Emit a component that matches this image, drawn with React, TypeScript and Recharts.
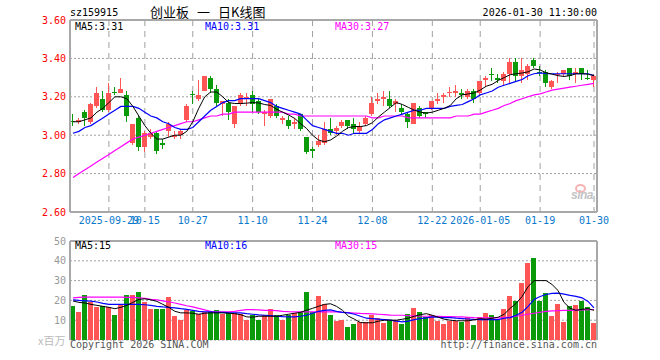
import React from "react";
import {
  ComposedChart,
  Bar,
  Line,
  XAxis,
  YAxis,
  CartesianGrid,
  ReferenceLine,
} from "recharts";

// ---------------------------------------------------------------------------
// Data (read off the sina daily K chart of sz159915)
// ---------------------------------------------------------------------------

const dates = [
  "2025-09-19", "2025-09-22", "2025-09-23", "2025-09-24", "2025-09-25", "2025-09-26", "2025-09-29", "2025-09-30",
  "2025-10-09", "2025-10-10", "2025-10-13", "2025-10-14", "2025-10-15", "2025-10-16", "2025-10-17", "2025-10-20",
  "2025-10-21", "2025-10-22", "2025-10-23", "2025-10-24", "2025-10-27", "2025-10-28", "2025-10-29", "2025-10-30",
  "2025-10-31", "2025-11-03", "2025-11-04", "2025-11-05", "2025-11-06", "2025-11-07", "2025-11-10", "2025-11-11",
  "2025-11-12", "2025-11-13", "2025-11-14", "2025-11-17", "2025-11-18", "2025-11-19", "2025-11-20", "2025-11-21",
  "2025-11-24", "2025-11-25", "2025-11-26", "2025-11-27", "2025-11-28", "2025-12-01", "2025-12-02", "2025-12-03",
  "2025-12-04", "2025-12-05", "2025-12-08", "2025-12-09", "2025-12-10", "2025-12-11", "2025-12-12", "2025-12-15",
  "2025-12-16", "2025-12-17", "2025-12-18", "2025-12-19", "2025-12-22", "2025-12-23", "2025-12-24", "2025-12-25",
  "2025-12-26", "2025-12-29", "2025-12-30", "2025-12-31", "2026-01-05", "2026-01-06", "2026-01-07", "2026-01-08",
  "2026-01-09", "2026-01-12", "2026-01-13", "2026-01-14", "2026-01-15", "2026-01-16", "2026-01-19", "2026-01-20",
  "2026-01-21", "2026-01-22", "2026-01-23", "2026-01-26", "2026-01-27", "2026-01-28", "2026-01-29", "2026-01-30",
];

const opens = [
  3.075, 3.07, 3.12, 3.07, 3.15, 3.19, 3.13, 3.225, 3.22, 3.21,
  2.96, 3.09, 2.94, 2.99, 3.01, 2.96, 3.02, 2.99, 3.0, 3.08,
  3.215, 3.19, 3.23, 3.3, 3.24, 3.16, 3.17, 3.06, 3.16, 3.19,
  3.21, 3.18, 3.11, 3.1, 3.15, 3.08, 3.08, 3.06, 3.11, 2.99,
  2.93, 2.95, 2.96, 3.03, 3.02, 3.05, 3.08, 3.06, 3.02, 3.06,
  3.11, 3.18, 3.19, 3.19, 3.16, 3.14, 3.11, 3.06, 3.14, 3.12,
  3.14, 3.18, 3.2, 3.22, 3.22, 3.22, 3.2, 3.23, 3.22, 3.29,
  3.32, 3.3, 3.28, 3.32, 3.38, 3.31, 3.32, 3.39, 3.33, 3.33,
  3.25, 3.315, 3.32, 3.35, 3.32, 3.35, 3.3, 3.29,
];

const highs = [
  3.11, 3.09, 3.13, 3.17, 3.25, 3.23, 3.27, 3.25, 3.3, 3.23,
  3.06, 3.1, 3.02, 3.03, 3.02, 2.98, 3.07, 3.02, 3.03, 3.16,
  3.23, 3.29, 3.31, 3.31, 3.26, 3.18, 3.19, 3.15, 3.22, 3.22,
  3.23, 3.19, 3.13, 3.19, 3.16, 3.1, 3.1, 3.09, 3.11, 2.99,
  2.94, 3.0, 3.07, 3.09, 3.05, 3.08, 3.08, 3.09, 3.07, 3.1,
  3.2, 3.22, 3.23, 3.23, 3.19, 3.16, 3.12, 3.17, 3.15, 3.12,
  3.18, 3.22, 3.22, 3.25, 3.26, 3.24, 3.24, 3.24, 3.28, 3.31,
  3.35, 3.32, 3.33, 3.4, 3.4, 3.4, 3.37, 3.4, 3.36, 3.34,
  3.29, 3.33, 3.34, 3.35, 3.35, 3.35, 3.34, 3.32,
];

const lows = [
  3.05, 3.06, 3.05, 3.06, 3.14, 3.12, 3.12, 3.21, 3.22, 3.07,
  2.95, 2.92, 2.91, 2.98, 2.9, 2.93, 2.99, 2.98, 2.98, 3.07,
  3.16, 3.18, 3.23, 3.22, 3.15, 3.1, 3.08, 3.04, 3.15, 3.15,
  3.12, 3.11, 3.05, 3.09, 3.09, 3.06, 3.03, 3.03, 3.02, 2.9,
  2.88, 2.94, 2.95, 3.0, 3.0, 3.04, 3.03, 3.01, 3.01, 3.05,
  3.1, 3.16, 3.15, 3.14, 3.12, 3.11, 3.04, 3.06, 3.09, 3.09,
  3.13, 3.16, 3.17, 3.2, 3.2, 3.19, 3.19, 3.17, 3.21, 3.25,
  3.28, 3.27, 3.26, 3.27, 3.28, 3.27, 3.29, 3.35, 3.31, 3.25,
  3.24, 3.27, 3.31, 3.29, 3.27, 3.29, 3.29, 3.25,
];

const closes = [
  3.07, 3.08, 3.09, 3.16, 3.22, 3.13, 3.22, 3.22, 3.24, 3.1,
  3.06, 2.94, 3.01, 3.01, 2.92, 2.95, 3.06, 3.0, 3.02, 3.15,
  3.21, 3.21, 3.31, 3.24, 3.17, 3.18, 3.12, 3.15, 3.21, 3.2,
  3.16, 3.12, 3.12, 3.19, 3.1, 3.09, 3.05, 3.07, 3.03, 2.91,
  2.92, 2.97, 3.03, 3.01, 3.04, 3.07, 3.05, 3.03, 3.05, 3.09,
  3.17, 3.19, 3.2, 3.15, 3.18, 3.12, 3.07, 3.17, 3.1, 3.11,
  3.18, 3.19, 3.21, 3.225, 3.23, 3.21, 3.23, 3.19, 3.28, 3.3,
  3.315, 3.29, 3.32, 3.38, 3.31, 3.34, 3.36, 3.36, 3.325, 3.27,
  3.28, 3.32, 3.34, 3.31, 3.33, 3.32, 3.295, 3.31,
];

const ma5 = [
  3.07, 3.07, 3.08, 3.09, 3.12, 3.14, 3.17, 3.2, 3.2, 3.19,
  3.15, 3.1, 3.05, 3.01, 2.98, 2.98, 2.99, 3.0, 3.0, 3.02,
  3.07, 3.14, 3.2, 3.225, 3.225, 3.2, 3.17, 3.165, 3.165, 3.167,
  3.17, 3.168, 3.16, 3.155, 3.135, 3.12, 3.105, 3.088, 3.06, 3.035,
  3.0, 2.975, 2.966, 2.975, 2.995, 3.02, 3.04, 3.045, 3.045, 3.05,
  3.065, 3.095, 3.12, 3.145, 3.17, 3.16, 3.145, 3.13, 3.12, 3.115,
  3.12, 3.13, 3.14, 3.155, 3.19, 3.21, 3.215, 3.22, 3.235, 3.255,
  3.265, 3.285, 3.3, 3.315, 3.32, 3.324, 3.33, 3.345, 3.34, 3.325,
  3.318, 3.31, 3.306, 3.31, 3.32, 3.32, 3.318, 3.31,
];

const ma10 = [
  3.01, 3.02, 3.04, 3.05, 3.07, 3.09, 3.11, 3.13, 3.15, 3.15,
  3.15, 3.14, 3.12, 3.1, 3.09, 3.07, 3.06, 3.04, 3.03, 3.03,
  3.04, 3.07, 3.1, 3.13, 3.15, 3.17, 3.18, 3.18, 3.19, 3.19,
  3.19, 3.19, 3.18, 3.17, 3.15, 3.14, 3.13, 3.12, 3.11, 3.08,
  3.05, 3.04, 3.03, 3.02, 3.01, 3.01, 3.0, 3.01, 3.01, 3.01,
  3.03, 3.06, 3.08, 3.09, 3.1, 3.11, 3.12, 3.13, 3.13, 3.14,
  3.14, 3.14, 3.14, 3.15, 3.155, 3.16, 3.175, 3.19, 3.21, 3.22,
  3.23, 3.25, 3.26, 3.27, 3.28, 3.29, 3.31, 3.32, 3.325, 3.32,
  3.32, 3.32, 3.32, 3.32, 3.32, 3.32, 3.32, 3.31,
];

const ma30 = [
  2.78, 2.8, 2.82, 2.84, 2.86, 2.88, 2.9, 2.92, 2.94, 2.96,
  2.98, 2.99, 3.0, 3.01, 3.02, 3.03, 3.04, 3.05, 3.06, 3.07,
  3.07, 3.08, 3.09, 3.1, 3.1, 3.11, 3.11, 3.12, 3.12, 3.12,
  3.12, 3.12, 3.12, 3.12, 3.12, 3.12, 3.11, 3.11, 3.1, 3.1,
  3.1, 3.1, 3.1, 3.1, 3.1, 3.1, 3.1, 3.1, 3.1, 3.1,
  3.09, 3.09, 3.1, 3.1, 3.1, 3.1, 3.09, 3.09, 3.09, 3.09,
  3.09, 3.09, 3.09, 3.09, 3.1, 3.1, 3.1, 3.11, 3.11, 3.12,
  3.13, 3.14, 3.155, 3.165, 3.18, 3.19, 3.2, 3.21, 3.215, 3.225,
  3.235, 3.24, 3.245, 3.25, 3.255, 3.26, 3.265, 3.27,
];

// volume, millions of shares
const volumes = [
  17, 14, 22.5, 19.2, 16.7, 17, 16.7, 12.5, 17.5, 22.5,
  22.5, 24, 19, 15.7, 15.7, 15.7, 21.7, 12, 10, 15,
  14.7, 13.3, 14.2, 14.2, 15, 13.3, 13.7, 13.7, 13.3, 10,
  12.5, 10.3, 12.5, 15.8, 12.5, 10, 12.5, 13.7, 14.2, 24,
  14.2, 22, 18.3, 12.5, 9.7, 10, 6.7, 8, 9.2, 9.2,
  12.5, 11.3, 8.7, 9.7, 10.3, 8, 13, 16.2, 14, 11.7,
  12.8, 9.7, 8, 9.7, 9.7, 9.2, 11.7, 7.5, 11.7, 13.7,
  12.5, 10.3, 15.7, 22.2, 19.7, 28.7, 38.7, 41.2, 19.7, 23.7,
  12, 18, 9.2, 17, 17.5, 19.7, 16.7, 8.7,
];

const volMa5 = [
  19.7, 19, 18.7, 18, 17.5, 17, 16.5, 15.8, 16.5, 17.5,
  19, 20.5, 20.8, 20.3, 19.5, 18, 16.5, 14.5, 13.7, 13.7,
  13.5, 13, 13.5, 13.7, 13.7, 13.7, 13.5, 13.3, 12.8, 11.7,
  11.5, 12, 12, 12, 12, 12.5, 13, 13.5, 14, 15,
  16, 17, 18, 18.3, 17, 15, 12, 10.5, 8.8, 8.7,
  8.7, 9.5, 10, 10, 10, 10.5, 11, 12, 12.8, 13.3,
  12.5, 11.5, 10.5, 10, 9.7, 9.7, 9.7, 10.2, 10.8, 10.5,
  11, 11.5, 13, 16, 18.5, 22, 27, 30, 30, 30,
  28, 25, 19, 16, 15, 15.5, 15.8, 15,
];

const volMa10 = [
  20.3, 20, 19.8, 19.6, 19.2, 18.5, 18, 18, 18, 18,
  18, 18, 17.8, 17.5, 17, 16.7, 16.5, 16.2, 15.8, 15.5,
  15, 14.5, 14.2, 14.2, 14, 14, 13.8, 13.7, 13.7, 13.3,
  13, 12.7, 12.5, 12.3, 12, 11.8, 11.7, 11.7, 12, 12.5,
  13.5, 14.5, 15, 15.2, 14.5, 14, 13.7, 13, 12, 11,
  10.8, 10.5, 10.3, 10, 9.5, 9.2, 9.5, 10.3, 10.8, 11.2,
  11.7, 11.5, 11.3, 11.3, 11, 10.8, 10.6, 10.4, 10.3, 10.3,
  10.3, 10.3, 11, 11.3, 12.5, 14, 17, 20.5, 22, 23,
  23.5, 23.7, 23.2, 22.5, 22, 21.3, 19.5, 16.2,
];

const volMa30 = [
  21.3, 21.5, 21.7, 21.7, 21.7, 21.7, 21.7, 21.7, 21.7, 21.5,
  21.5, 21.3, 21, 20.5, 20.3, 19.8, 19.3, 18.7, 18, 17.3,
  16.7, 16, 15.2, 14.5, 14.2, 14.2, 14.2, 14.5, 15, 15.3,
  15.3, 15.2, 15, 15, 14.8, 14.5, 14.3, 14.2, 14.2, 14.2,
  14.2, 14.2, 14.2, 14.2, 14.2, 14, 13.8, 13.6, 13.4, 13.3,
  13.2, 13, 12.8, 12.6, 12.5, 12.5, 12.3, 12.2, 12, 12,
  12, 11.9, 11.8, 11.8, 11.7, 11.7, 11.5, 11.3, 11.2, 11.2,
  11.2, 11.2, 11.3, 11.6, 12, 12.5, 13, 13.5, 14, 14.5,
  14.7, 14.8, 15, 15, 15.1, 15.2, 15.3, 15.4,
];

const priceTicks = [2.6, 2.8, 3.0, 3.2, 3.4, 3.6];
const volTicks = [10, 20, 30, 40, 50];
const tickDates = [
  "2025-09-29", "2025-10-15", "2025-10-27", "2025-11-10", "2025-11-24",
  "2025-12-08", "2025-12-22", "2026-01-05", "2026-01-19", "2026-01-30",
];
const tickLabels = [
  "2025-09-29", "10-15", "10-27", "11-10", "11-24",
  "12-08", "12-22", "2026-01-05", "01-19", "01-30",
];

// ---------------------------------------------------------------------------
// Styling
// ---------------------------------------------------------------------------

const RED = "#ff5555";
const GREEN = "#0a9a0a";
const FRAME = "#a8a8a8";
const GRID = "#a0a0a0";
const MONO = "'DejaVu Sans Mono', 'Liberation Mono', monospace";
const CJK = "'Noto Sans CJK SC', sans-serif";

const data = dates.map((date, i) => ({
  date,
  open: opens[i],
  high: highs[i],
  low: lows[i],
  close: closes[i],
  range: [lows[i], highs[i]],
  vol: volumes[i],
  ma5: ma5[i],
  ma10: ma10[i],
  ma30: ma30[i],
  vma5: volMa5[i],
  vma10: volMa10[i],
  vma30: volMa30[i],
}));

const last = (a: number[]) => a[a.length - 1];

// ---------------------------------------------------------------------------
// Shapes
// ---------------------------------------------------------------------------

function Candle(props: any) {
  const { x, y, width, height, payload } = props;
  if (!payload) return null;
  const { open, close, high, low } = payload;
  const top = Math.min(y, y + height);
  const h = Math.abs(height);
  const toPx = (v: number) => top + ((high - v) / (high - low || 1)) * h;
  const color = close >= open ? RED : GREEN;
  const bx = Math.round(x);
  const bw = Math.round(width);
  const cx = bx + Math.floor(bw / 2) + 0.5;
  const b1 = Math.round(toPx(Math.max(open, close)));
  const b2 = Math.round(toPx(Math.min(open, close)));
  return (
    <g shapeRendering="crispEdges">
      <line x1={cx} x2={cx} y1={top} y2={top + h} stroke={color} strokeWidth={1} />
      <rect x={bx} y={b1} width={bw} height={Math.max(1, b2 - b1)} fill={color} />
    </g>
  );
}

function VolBar(props: any) {
  const { x, y, width, height, payload } = props;
  if (!payload) return null;
  const color = payload.close >= payload.open ? RED : GREEN;
  return (
    <rect
      x={Math.round(x)}
      y={y}
      width={Math.round(width)}
      height={height}
      fill={color}
      shapeRendering="crispEdges"
    />
  );
}

const txt = (extra: React.CSSProperties): React.CSSProperties => ({
  position: "absolute",
  fontFamily: MONO,
  fontSize: 10,
  lineHeight: "12px",
  whiteSpace: "nowrap",
  ...extra,
});

const cjk = (extra: React.CSSProperties): React.CSSProperties => ({
  position: "absolute",
  fontFamily: CJK,
  fontSize: 13,
  lineHeight: "16px",
  color: "#000",
  whiteSpace: "nowrap",
  ...extra,
});

// ---------------------------------------------------------------------------
// Component
// ---------------------------------------------------------------------------

export default function App() {
  return (
    <div
      style={{
        position: "absolute",
        left: 0,
        top: 0,
        width: 660,
        height: 360,
        background: "#fff",
        overflow: "hidden",
      }}
    >
      {/* header */}
      <div style={txt({ left: 70, top: 7, color: "#000" })}>sz159915</div>
      <div style={cjk({ left: 150, top: 4 })}>创业板</div>
      <div style={cjk({ left: 197, top: 4 })}>一</div>
      <div style={cjk({ left: 218, top: 4 })}>日K线图</div>
      <div style={txt({ left: 0, width: 597, top: 7, textAlign: "right", color: "#000" })}>
        2026-01-30 11:30:00
      </div>

      {/* price chart */}
      <div style={{ position: "absolute", left: 0, top: 0 }}>
        <ComposedChart
          width={660}
          height={235}
          data={data}
          margin={{ top: 20, right: 62, bottom: 3, left: 0 }}
          barSize={5}
          barCategoryGap={0}
        >
          <CartesianGrid horizontal={false} stroke={GRID} strokeDasharray="6 5" />
          <CartesianGrid vertical={false} stroke={GRID} strokeDasharray="2 2" />
          <XAxis
            dataKey="date"
            ticks={tickDates}
            interval={0}
            tickFormatter={(d: string) => tickLabels[tickDates.indexOf(d)] ?? ""}
            tick={{ fill: "#0a78cc", fontSize: 10, fontFamily: MONO }}
            tickLine={false}
            tickSize={0}
            tickMargin={5}
            height={20}
            axisLine={{ stroke: FRAME, strokeWidth: 2 }}
          />
          <YAxis
            domain={[2.6, 3.6]}
            ticks={priceTicks}
            interval={0}
            tickFormatter={(v: number) => v.toFixed(2)}
            tick={{ fill: "#ff0000", fontSize: 10, fontFamily: MONO }}
            tickLine={false}
            tickSize={0}
            tickMargin={4}
            width={70}
            axisLine={{ stroke: FRAME, strokeWidth: 2 }}
          />
          <YAxis
            yAxisId="right"
            orientation="right"
            domain={[2.6, 3.6]}
            tick={false}
            tickLine={false}
            width={1}
            axisLine={{ stroke: FRAME, strokeWidth: 2 }}
          />
          <ReferenceLine y={3.6} stroke={FRAME} strokeWidth={2} />
          <Bar dataKey="range" shape={<Candle />} isAnimationActive={false} />
          <Line type="linear" dataKey="ma30" stroke="#ff00ff" strokeWidth={1.2} dot={false} isAnimationActive={false} />
          <Line type="linear" dataKey="ma10" stroke="#0000ff" strokeWidth={1.2} dot={false} isAnimationActive={false} />
          <Line type="linear" dataKey="ma5" stroke="#000000" strokeWidth={1} dot={false} isAnimationActive={false} />
        </ComposedChart>
      </div>

      <div style={txt({ left: 75, top: 21, color: "#000" })}>MA5:{last(ma5).toFixed(2)}</div>
      <div style={txt({ left: 205, top: 21, color: "#0000ff" })}>MA10:{last(ma10).toFixed(2)}</div>
      <div style={txt({ left: 335, top: 21, color: "#ff00ff" })}>MA30:{last(ma30).toFixed(2)}</div>

      {/* sina watermark */}
      <div
        style={{
          position: "absolute",
          left: 575,
          top: 184,
          width: 7,
          height: 5,
          border: "2px solid #f6b4b4",
          borderRadius: "50%",
        }}
      />
      <div
        style={{
          position: "absolute",
          left: 571,
          top: 188,
          fontFamily: "'Liberation Sans', sans-serif",
          fontStyle: "italic",
          fontWeight: 700,
          fontSize: 12,
          lineHeight: "14px",
          color: "#c4c4c4",
          letterSpacing: -0.5,
        }}
      >
        sina
      </div>

      {/* volume chart */}
      <div style={{ position: "absolute", left: 0, top: 235 }}>
        <ComposedChart
          width={660}
          height={110}
          data={data}
          margin={{ top: 6, right: 62, bottom: 5, left: 0 }}
          barSize={5}
          barCategoryGap={0}
        >
          <CartesianGrid horizontal={false} stroke={GRID} strokeDasharray="6 5" />
          <CartesianGrid vertical={false} stroke={GRID} strokeDasharray="2 2" />
          <XAxis
            dataKey="date"
            ticks={tickDates}
            interval={0}
            tick={false}
            tickLine={false}
            height={0}
            axisLine={{ stroke: FRAME, strokeWidth: 2 }}
          />
          <YAxis
            domain={[0, 50]}
            ticks={volTicks}
            interval={0}
            tick={{ fill: "#999999", fontSize: 10, fontFamily: MONO }}
            tickLine={false}
            tickSize={0}
            tickMargin={4}
            width={70}
            axisLine={{ stroke: FRAME, strokeWidth: 2 }}
          />
          <YAxis
            yAxisId="right"
            orientation="right"
            domain={[0, 50]}
            tick={false}
            tickLine={false}
            width={1}
            axisLine={{ stroke: FRAME, strokeWidth: 2 }}
          />
          <ReferenceLine y={50} stroke={FRAME} strokeWidth={2} />
          <Bar dataKey="vol" shape={<VolBar />} isAnimationActive={false} />
          <Line type="linear" dataKey="vma30" stroke="#ff00ff" strokeWidth={1.2} dot={false} isAnimationActive={false} />
          <Line type="linear" dataKey="vma10" stroke="#0000ff" strokeWidth={1.2} dot={false} isAnimationActive={false} />
          <Line type="linear" dataKey="vma5" stroke="#000000" strokeWidth={1} dot={false} isAnimationActive={false} />
        </ComposedChart>
      </div>

      <div style={txt({ left: 75, top: 240, color: "#000" })}>MA5:{Math.round(last(volMa5))}</div>
      <div style={txt({ left: 205, top: 240, color: "#0000ff" })}>MA10:{Math.round(last(volMa10))}</div>
      <div style={txt({ left: 335, top: 240, color: "#ff00ff" })}>MA30:{Math.round(last(volMa30))}</div>

      <div
        style={{
          position: "absolute",
          left: 38,
          top: 333,
          fontFamily: CJK,
          fontSize: 11,
          lineHeight: "14px",
          color: "#bbbbbb",
        }}
      >
        x百万
      </div>

      {/* footer */}
      <div style={txt({ left: 70, top: 339, color: "#555" })}>Copyright 2026 SINA.COM</div>
      <div style={txt({ left: 0, width: 597, top: 339, textAlign: "right", color: "#555" })}>
        http://finance.sina.com.cn
      </div>
    </div>
  );
}
